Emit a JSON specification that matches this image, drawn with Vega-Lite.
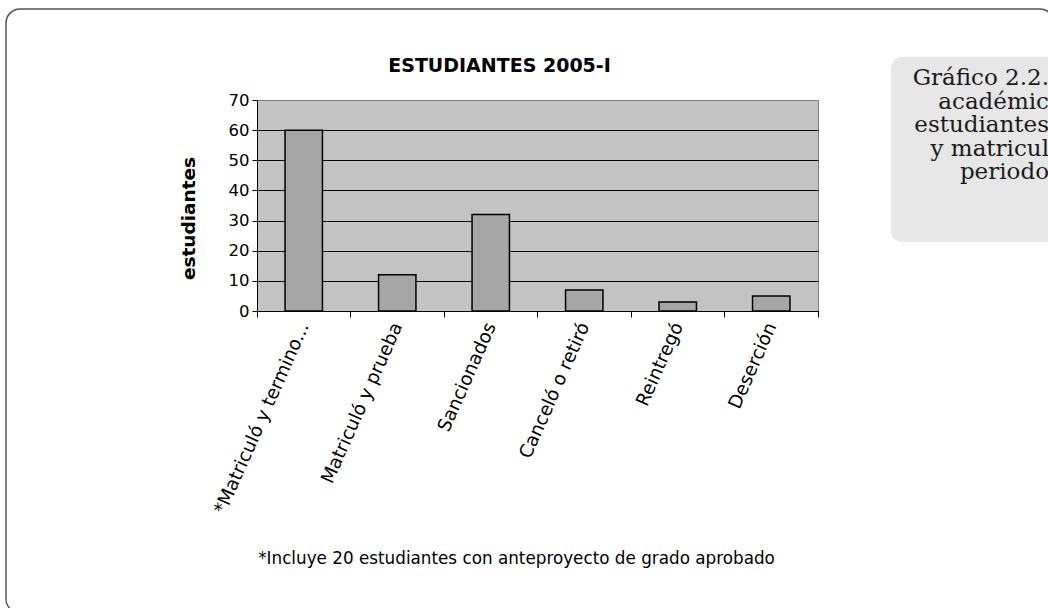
{
  "$schema": "https://vega.github.io/schema/vega-lite/v6.json",
  "autosize": "none",
  "width": 561,
  "height": 211,
  "padding": {"left": 257, "top": 100, "right": 230, "bottom": 297},
  "background": "white",
  "config": {
    "font": "DejaVu Sans",
    "view": {"fill": "#c3c3c3", "stroke": "#808080", "strokeWidth": 1}
  },
  "title": {
    "text": "ESTUDIANTES 2005-I",
    "font": "DejaVu Sans",
    "fontSize": 19,
    "fontWeight": "bold",
    "color": "black",
    "anchor": "middle",
    "frame": "group",
    "dx": -38,
    "offset": -68
  },
  "layer": [
    {
      "data": {"values": [{}]},
      "mark": {"type": "rect", "fill": "white", "fillOpacity": 0, "stroke": "#555555", "strokeWidth": 1.5, "cornerRadius": 14},
      "encoding": {
        "x": {"value": -251},
        "x2": {"value": 797},
        "y": {"value": -91},
        "y2": {"value": 513}
      }
    },
    {
      "data": {"values": [{}]},
      "mark": {"type": "rect", "fill": "#e7e7e7", "cornerRadius": 11},
      "encoding": {
        "x": {"value": 634},
        "x2": {"value": 806},
        "y": {"value": -43},
        "y2": {"value": 142}
      }
    },
    {
      "data": {"values": [{}]},
      "mark": {"type": "text", "font": "DejaVu Serif", "fontSize": 23, "color": "#1a1a1a", "align": "right", "baseline": "middle", "lineHeight": 23.5},
      "encoding": {
        "x": {"value": 792},
        "y": {"value": -22},
        "text": {"value": ["Gráfico 2.2.", "académic", "estudiantes", "y matricul", "periodo"]}
      }
    },
    {
      "data": {
        "values": [
          {"categoria": "*Matriculó y termino...", "estudiantes": 60},
          {"categoria": "Matriculó y prueba", "estudiantes": 12},
          {"categoria": "Sancionados", "estudiantes": 32},
          {"categoria": "Canceló o retiró", "estudiantes": 7},
          {"categoria": "Reintregó", "estudiantes": 3},
          {"categoria": "Deserción", "estudiantes": 5}
        ]
      },
      "mark": {"type": "bar", "width": {"band": 0.4}, "fill": "#a6a6a6", "stroke": "black", "strokeWidth": 1.5},
      "encoding": {
        "x": {
          "field": "categoria",
          "type": "nominal",
          "sort": null,
          "scale": {"paddingInner": 0, "paddingOuter": 0},
          "axis": {
            "title": "*Incluye 20 estudiantes con anteproyecto de grado aprobado",
            "titleFont": "DejaVu Sans",
            "titleFontSize": 16.8,
            "titleFontWeight": "normal",
            "titleColor": "black",
            "titleX": 259,
            "titleY": 247,
            "titleAlign": "center",
            "titleBaseline": "middle",
            "domainColor": "black",
            "domainWidth": 1,
            "tickColor": "black",
            "tickSize": 6,
            "bandPosition": 1,
            "tickExtra": true,
            "labelAngle": -66,
            "labelAlign": "right",
            "labelBaseline": "middle",
            "labelPadding": 6,
            "labelFontSize": 18.5,
            "labelColor": "black",
            "labelLimit": 400
          }
        },
        "y": {
          "field": "estudiantes",
          "type": "quantitative",
          "scale": {"domain": [0, 70], "nice": false},
          "axis": {
            "title": "estudiantes",
            "titleFont": "DejaVu Sans",
            "titleFontSize": 18.5,
            "titleFontWeight": "bold",
            "titleColor": "black",
            "titlePadding": 30,
            "titleY": 118,
            "titleAlign": "center",
            "values": [0, 10, 20, 30, 40, 50, 60, 70],
            "grid": true,
            "gridColor": {"condition": {"test": "datum.value === 70", "value": "#808080"}, "value": "black"},
            "gridWidth": 1,
            "domainColor": "black",
            "tickColor": "black",
            "tickSize": 5,
            "labelPadding": 3,
            "labelFontSize": 16.5,
            "labelColor": "black"
          }
        }
      }
    }
  ]
}
